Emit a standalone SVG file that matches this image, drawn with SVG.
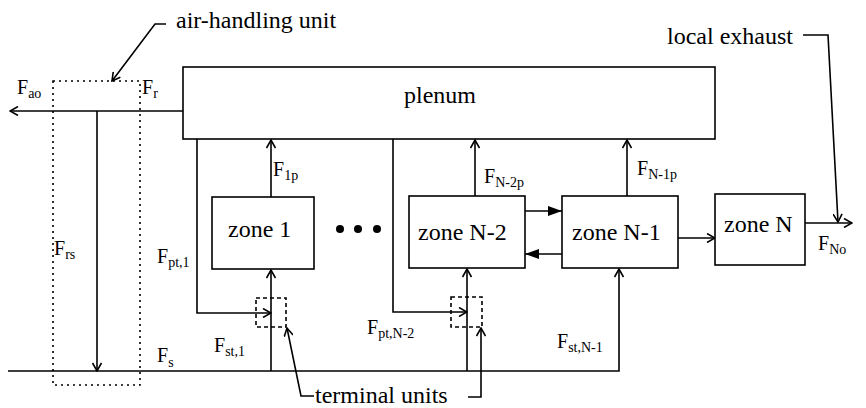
<svg xmlns="http://www.w3.org/2000/svg" width="866" height="408" viewBox="0 0 866 408" font-family="'Liberation Serif', 'DejaVu Serif', serif">
<style>
  .box{fill:#fff;stroke:#000;stroke-width:1.6}
  .ln{fill:none;stroke:#000;stroke-width:1.6}
  .oa{marker-end:url(#open)}
  .fa{marker-end:url(#fill)}
  .dot{fill:none;stroke:#000;stroke-width:1.6;stroke-dasharray:2,4}
  .dash{fill:none;stroke:#000;stroke-width:1.6;stroke-dasharray:4,3}
  text{font-family:'Liberation Serif', 'DejaVu Serif', serif;fill:#000}
  .big{font-size:24px}
  .lab{font-size:20px}
  .sub{font-size:14px}
</style>
<defs>
  <marker id="open" viewBox="0 0 10 10" refX="9" refY="5" markerWidth="10" markerHeight="10" markerUnits="userSpaceOnUse" orient="auto">
    <path d="M1,0.5 L9,5 L1,9.5" fill="none" stroke="#000" stroke-width="1.6"/>
  </marker>
  <marker id="fill" viewBox="0 0 14 10" refX="14" refY="5" markerWidth="14" markerHeight="10" markerUnits="userSpaceOnUse" orient="auto">
    <path d="M0,0 L14,5 L0,10 Z" fill="#000"/>
  </marker>
</defs>

<g id="connectors">
  <path class="ln oa" d="M183,111 H10"/>
  <path class="ln oa" d="M97,111 V371"/>
  <path class="ln oa" d="M8,371 H619 V269"/>
  <path class="ln oa" d="M271,371 V270"/>
  <path class="ln oa" d="M467,371 V269"/>
  <path class="ln oa" d="M197,139 V313 H271"/>
  <path class="ln oa" d="M393,139 V312 H467"/>
  <path class="ln oa" d="M271,197 V140"/>
  <path class="ln oa" d="M475,196 V140"/>
  <path class="ln oa" d="M627,196 V140"/>
  <path class="ln fa" d="M525,211 H562"/>
  <path class="ln fa" d="M562,254 H525"/>
  <path class="ln oa" d="M678,238 H715"/>
  <path class="ln oa" d="M805,223 H852"/>
  <path class="ln oa" d="M803,35 H828 L838,222"/>
  <path class="ln oa" d="M166,24 H155 L112,81"/>
  <path class="ln oa" d="M314,396 H301 L287,328"/>
  <path class="ln oa" d="M468,397 H481 V328"/>
</g>

<g id="air-handling-unit">
  <rect class="dot" x="53" y="81" width="87" height="304"/>
  <text class="big" x="176" y="28" font-family="Liberation Serif">air-handling unit</text>
</g>

<g id="plenum">
  <rect class="box" x="183" y="67" width="532" height="72"/>
  <text class="big" x="404" y="103" font-family="Liberation Serif">plenum</text>
</g>

<g id="zone1">
  <rect class="box" x="212" y="197" width="102" height="72"/>
  <text class="big" x="228" y="237" font-family="Liberation Serif">zone 1</text>
</g>

<g id="ellipsis">
  <circle cx="340" cy="229" r="4"/>
  <circle cx="358" cy="229" r="4"/>
  <circle cx="377" cy="229" r="4"/>
</g>

<g id="zoneN-2">
  <rect class="box" x="409" y="196" width="116" height="72"/>
  <text class="big" x="418" y="240" font-family="Liberation Serif">zone N-2</text>
</g>

<g id="zoneN-1">
  <rect class="box" x="562" y="196" width="116" height="72"/>
  <text class="big" x="572" y="240" font-family="Liberation Serif">zone N-1</text>
</g>

<g id="zoneN">
  <rect class="box" x="715" y="194" width="90" height="71"/>
  <text class="big" x="724" y="232" font-family="Liberation Serif">zone N</text>
</g>

<g id="terminal-units">
  <rect class="dash" x="256" y="298" width="30" height="29"/>
  <rect class="dash" x="451" y="297" width="31" height="30"/>
  <text class="big" x="315" y="403" font-family="Liberation Serif">terminal units</text>
</g>

<g id="local-exhaust">
  <text class="big" x="667" y="44" font-family="Liberation Serif">local exhaust</text>
</g>

<g id="labels" font-family="Liberation Serif">
  <text class="lab" x="17" y="94">F<tspan class="sub" dy="4">ao</tspan></text>
  <text class="lab" x="142" y="94">F<tspan class="sub" dy="4">r</tspan></text>
  <text class="lab" x="54" y="255">F<tspan class="sub" dy="4">rs</tspan></text>
  <text class="lab" x="157" y="362">F<tspan class="sub" dy="5">s</tspan></text>
  <text class="lab" x="157" y="263">F<tspan class="sub" dy="4">pt,1</tspan></text>
  <text class="lab" x="214" y="352">F<tspan class="sub" dy="4">st,1</tspan></text>
  <text class="lab" x="273" y="176">F<tspan class="sub" dy="4">1p</tspan></text>
  <text class="lab" x="367" y="334">F<tspan class="sub" dy="4">pt,N-2</tspan></text>
  <text class="lab" x="484" y="183">F<tspan class="sub" dy="4">N-2p</tspan></text>
  <text class="lab" x="637" y="175">F<tspan class="sub" dy="4">N-1p</tspan></text>
  <text class="lab" x="557" y="348">F<tspan class="sub" dy="4">st,N-1</tspan></text>
  <text class="lab" x="818" y="250">F<tspan class="sub" dy="4">No</tspan></text>
</g>
</svg>
